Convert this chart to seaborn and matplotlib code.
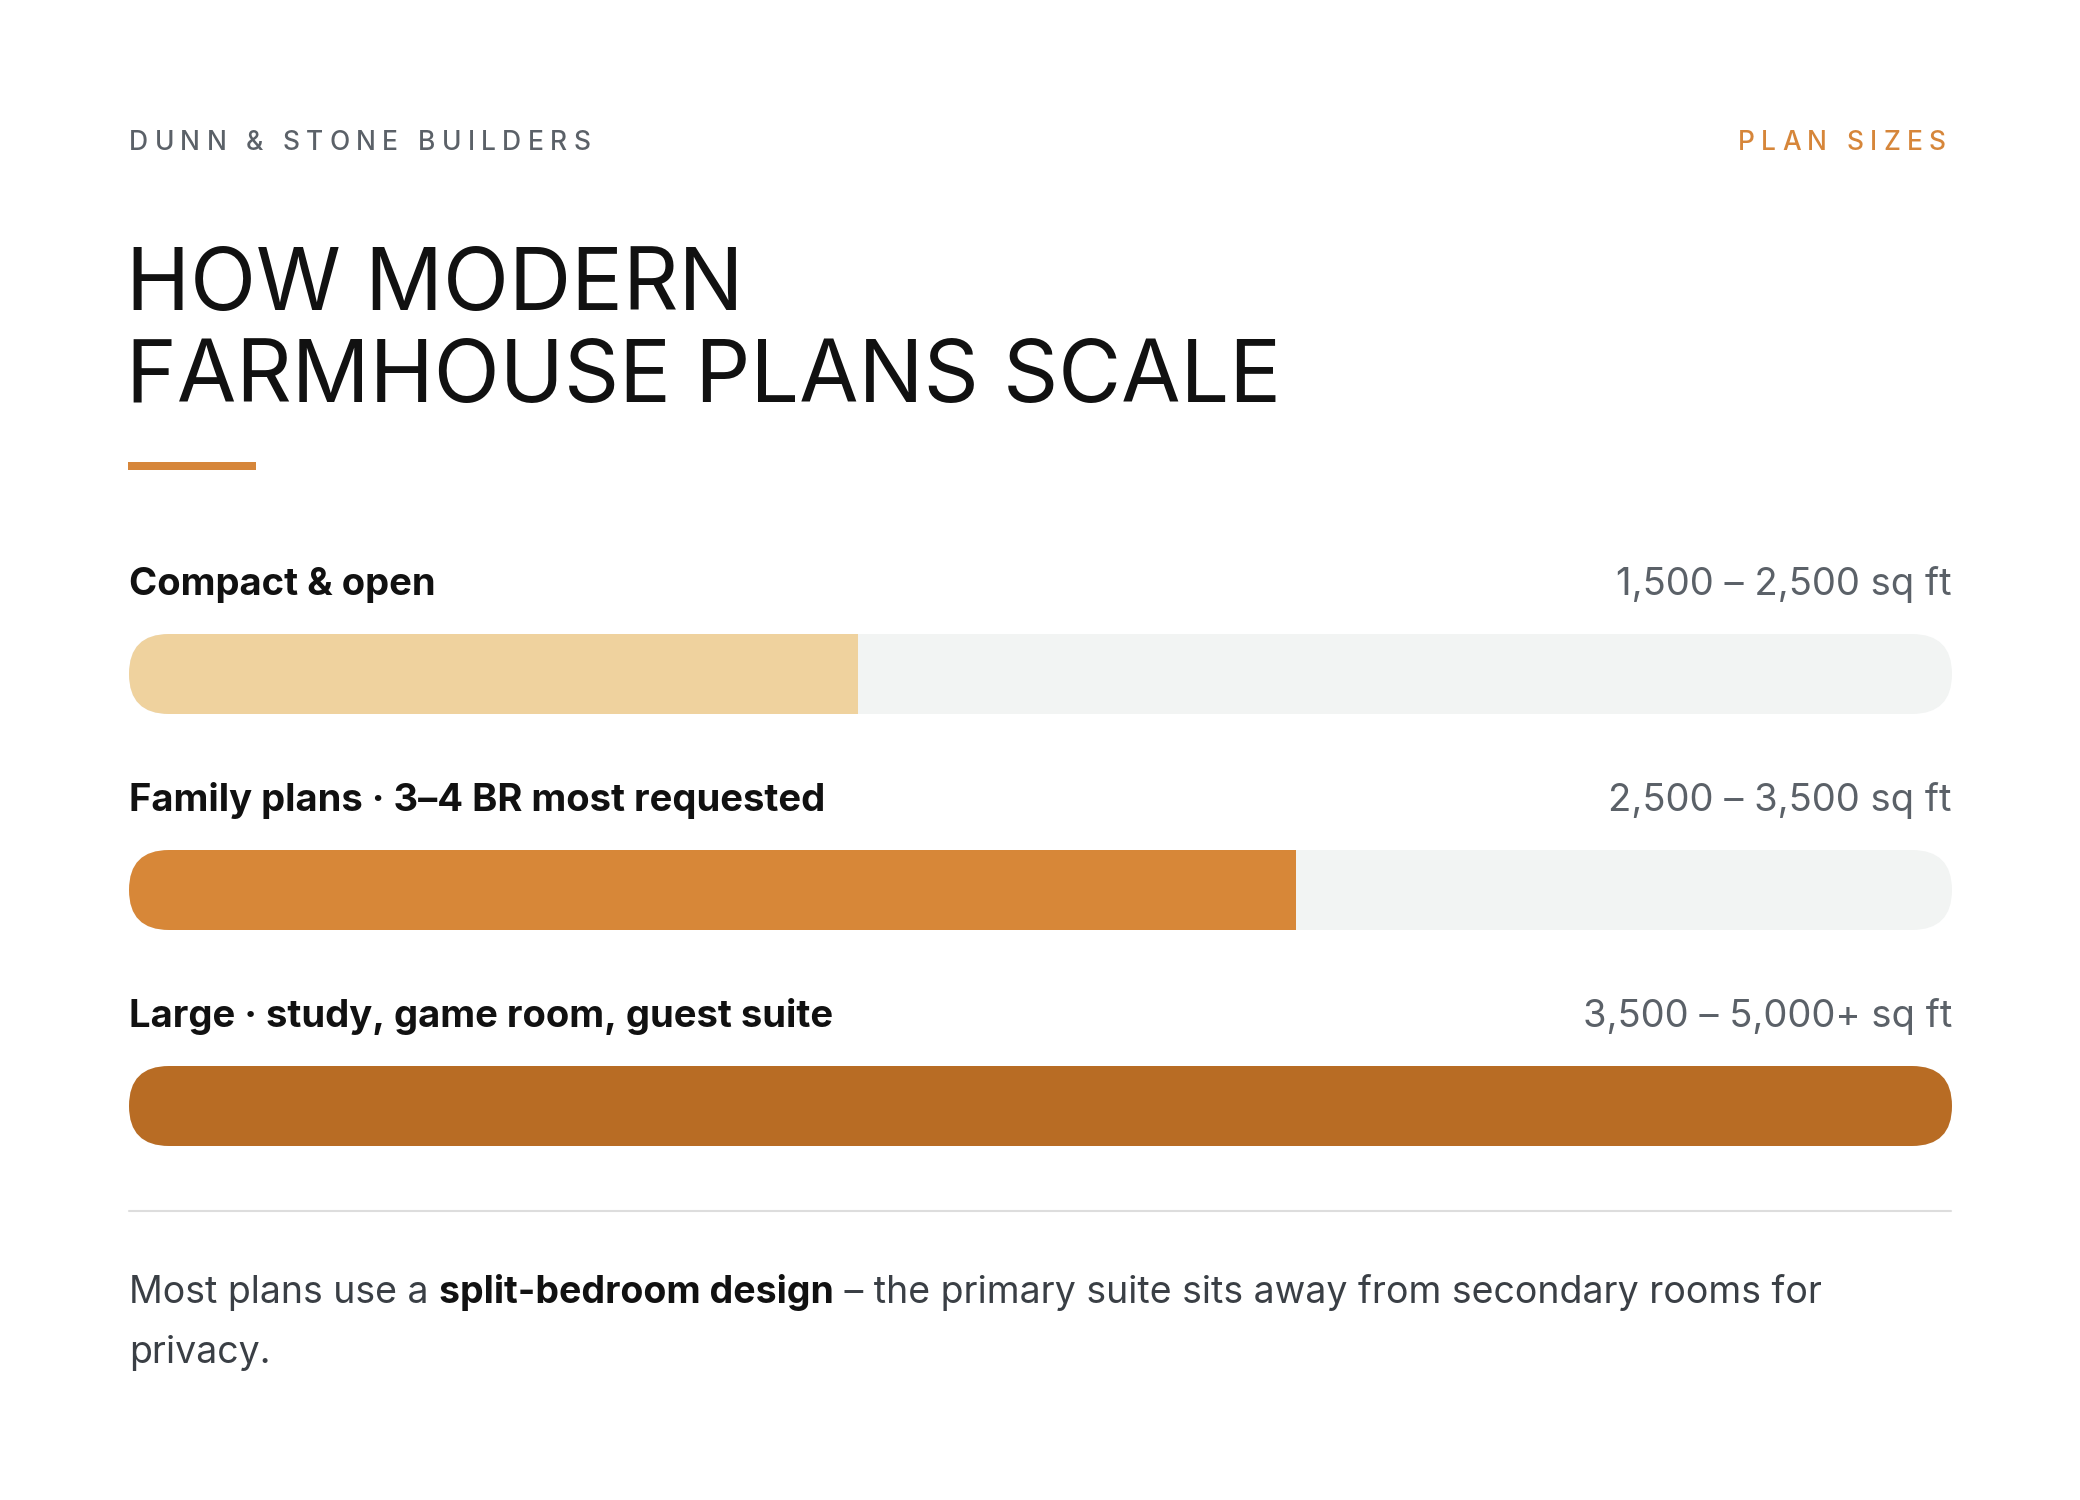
import pandas as pd
import numpy as np
from matplotlib import pyplot as plt
from matplotlib.patches import FancyBboxPatch, Rectangle
from matplotlib.lines import Line2D
from matplotlib.transforms import IdentityTransform
import seaborn as sns

# data
plans = ["Compact & open", "Family plans · 3–4 BR most requested", "Large · study, game room, guest suite"]
ranges = ["1,500 – 2,500 sq ft", "2,500 – 3,500 sq ft", "3,500 – 5,000+ sq ft"]
fill_pct = [40, 64, 100]
scale_max = [100, 100, 100]
fill_colors = ["#efd29e", "#d78738", "#b86c24"]

TRACK = "#f2f4f3"
ORANGE = "#d6863a"
GRAY = "#5b6168"
W, H = 2080, 1500

sns.set_theme(style="white")
plt.rcParams['font.family'] = ['Inter', 'DejaVu Sans']

fig = plt.figure(figsize=(W / 100, H / 100), dpi=100)
fig.patch.set_facecolor("white")

# bar area: 129..1951 px horizontally, 634..1146 px vertically
bw = 80 / 216
ax = fig.add_axes([129 / W, (H - 1146) / H, 1823 / W, 512 / H])
df = pd.DataFrame({"plan": plans, "scale": scale_max, "fill": fill_pct})
sns.barplot(data=df, x="scale", y="plan", color=TRACK, saturation=1, width=bw,
            errorbar=None, ax=ax, orient="h")
n_track = len(ax.patches)
sns.barplot(data=df, x="fill", y="plan", hue="plan", palette=fill_colors, saturation=1,
            width=bw, errorbar=None, legend=False, ax=ax, orient="h")
ax.set_xlim(0, 100)
ax.set_ylim(len(plans) - 1 + bw / 2, -bw / 2)
ax.axis("off")

tracks = ax.patches[:n_track]
fills = ax.patches[n_track:]
for t in tracks:
    t.set_edgecolor("none")
    bb = t.get_window_extent()
    clip = FancyBboxPatch((bb.x0, bb.y0), bb.width, bb.height,
                          boxstyle=f"round,pad=0,rounding_size={bb.height / 2}",
                          transform=IdentityTransform())
    t.set_clip_path(clip)
    for f in fills:
        if abs(f.get_y() - t.get_y()) < 1e-6:
            f.set_edgecolor("none")
            f.set_clip_path(clip)

# row labels
for i, (p, r) in enumerate(zip(plans, ranges)):
    y = i - bw / 2 - 39 / 216
    ax.text(0, y, p, fontsize=27.5, fontweight="bold", color="#111111", va="baseline", ha="left")
    ax.text(100, y, r, fontsize=27.5, color=GRAY, va="baseline", ha="right")

def fy(px):
    return 1 - px / H

renderer = fig.canvas.get_renderer()

def tracked(x_px, y_px, s, size, color, track, ha="left"):
    # spaced-out capitals: each glyph placed with extra tracking
    widths = []
    for ch in s:
        t = fig.text(0, 0, ch, fontsize=size, fontweight="medium")
        widths.append(t.get_window_extent(renderer).width)
        t.remove()
    total = sum(widths) + track * (len(s) - 1)
    x = x_px if ha == "left" else x_px - total
    for ch, w in zip(s, widths):
        fig.text(x / W, fy(y_px), ch, fontsize=size, fontweight="medium", color=color, va="baseline")
        x += w + track

# header
tracked(129, 150, "DUNN & STONE BUILDERS", 19, GRAY, 6.3)
tracked(1946, 150, "PLAN SIZES", 19, ORANGE, 6.3, ha="right")

# title
fig.text(126 / W, fy(310), "HOW MODERN", fontsize=62, fontweight="normal", color="#111111", va="baseline")
fig.text(126 / W, fy(402), "FARMHOUSE PLANS SCALE", fontsize=62, fontweight="normal", color="#111111", va="baseline")
fig.patches.append(Rectangle((128 / W, fy(470)), 128 / W, 8 / H, transform=fig.transFigure,
                             facecolor=ORANGE, edgecolor="none"))

# divider
fig.add_artist(Line2D([129 / W, 1951 / W], [fy(1211), fy(1211)], color="#dddddd", lw=1.5))

# footer with a bold segment
pieces = [("Most plans use a ", "normal", "#3a3f45"),
          ("split-bedroom design", "bold", "#111111"),
          (" – the primary suite sits away from secondary rooms for", "normal", "#3a3f45")]
x = 129
for txt, wt, col in pieces:
    t = fig.text(x / W, fy(1303), txt, fontsize=27, fontweight=wt, color=col, va="baseline")
    x += t.get_window_extent(renderer).width
fig.text(129 / W, fy(1363), "privacy.", fontsize=27, color="#3a3f45", va="baseline")

fig.savefig("out.png", dpi=100, facecolor="white")
